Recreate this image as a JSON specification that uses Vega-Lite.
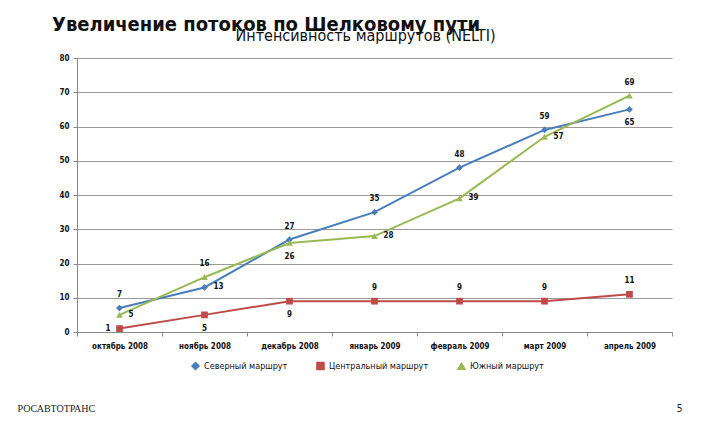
{
  "$schema": "https://vega.github.io/schema/vega-lite/v6.json",
  "autosize": "none",
  "width": 595,
  "height": 274,
  "padding": {"left": 77, "top": 58, "right": 52, "bottom": 100},
  "background": "white",
  "title": {
    "text": "Увеличение потоков по Шелковому пути",
    "anchor": "start",
    "frame": "group",
    "dx": -25,
    "offset": -8,
    "font": "Liberation Sans Narrow, DejaVu Sans Condensed, sans-serif",
    "fontSize": 20,
    "fontWeight": "bold",
    "color": "#111"
  },
  "config": {
    "view": {"stroke": null},
    "font": "Liberation Sans Narrow, DejaVu Sans Condensed, sans-serif"
  },
  "data": {
    "values": [
      {"month": "октябрь 2008", "series": "Северный маршрут", "value": 7},
      {"month": "ноябрь 2008", "series": "Северный маршрут", "value": 13},
      {"month": "декабрь 2008", "series": "Северный маршрут", "value": 27},
      {"month": "январь 2009", "series": "Северный маршрут", "value": 35},
      {"month": "февраль 2009", "series": "Северный маршрут", "value": 48},
      {"month": "март 2009", "series": "Северный маршрут", "value": 59},
      {"month": "апрель 2009", "series": "Северный маршрут", "value": 65},
      {"month": "октябрь 2008", "series": "Центральный маршрут", "value": 1},
      {"month": "ноябрь 2008", "series": "Центральный маршрут", "value": 5},
      {"month": "декабрь 2008", "series": "Центральный маршрут", "value": 9},
      {"month": "январь 2009", "series": "Центральный маршрут", "value": 9},
      {"month": "февраль 2009", "series": "Центральный маршрут", "value": 9},
      {"month": "март 2009", "series": "Центральный маршрут", "value": 9},
      {"month": "апрель 2009", "series": "Центральный маршрут", "value": 11},
      {"month": "октябрь 2008", "series": "Южный маршрут", "value": 5},
      {"month": "ноябрь 2008", "series": "Южный маршрут", "value": 16},
      {"month": "декабрь 2008", "series": "Южный маршрут", "value": 26},
      {"month": "январь 2009", "series": "Южный маршрут", "value": 28},
      {"month": "февраль 2009", "series": "Южный маршрут", "value": 39},
      {"month": "март 2009", "series": "Южный маршрут", "value": 57},
      {"month": "апрель 2009", "series": "Южный маршрут", "value": 69}
    ]
  },
  "encoding": {
    "x": {
      "field": "month",
      "type": "nominal",
      "sort": null,
      "scale": {"type": "band", "paddingInner": 0, "paddingOuter": 0},
      "axis": null
    },
    "y": {
      "field": "value",
      "type": "quantitative",
      "scale": {"domain": [0, 80]},
      "axis": null
    },
    "color": {
      "field": "series",
      "type": "nominal",
      "sort": ["Северный маршрут", "Центральный маршрут", "Южный маршрут"],
      "scale": {
        "domain": ["Северный маршрут", "Центральный маршрут", "Южный маршрут"],
        "range": ["#4a7ebb", "#be4b48", "#98b954"]
      },
      "legend": {
        "title": null,
        "orient": "none",
        "legendX": 114,
        "legendY": 303,
        "direction": "horizontal",
        "labelFont": "Liberation Sans Narrow, DejaVu Sans Condensed, sans-serif",
        "labelFontSize": 9,
        "labelColor": "#111",
        "labelOffset": 4,
        "columnPadding": 25,
        "symbolSize": 50
      }
    }
  },
  "layer": [
    {
      "mark": {"type": "line", "strokeWidth": 2},
      "encoding": {
        "x": {
          "field": "month",
          "type": "nominal",
          "sort": null,
          "scale": {"type": "band", "paddingInner": 0, "paddingOuter": 0},
          "axis": {
            "orient": "bottom",
            "title": null,
            "labelAngle": 0,
            "labelFont": "Liberation Sans Narrow, DejaVu Sans Condensed, sans-serif",
            "labelFontSize": 8,
            "labelFontWeight": "bold",
            "labelColor": "#111",
            "labelPadding": 6,
            "tickBand": "extent",
            "tickColor": "#888",
            "tickSize": 4,
            "domainColor": "#888"
          }
        },
        "y": {
          "field": "value",
          "type": "quantitative",
          "scale": {"domain": [0, 80]},
          "axis": {
            "orient": "left",
            "values": [0, 10, 20, 30, 40, 50, 60, 70, 80],
            "title": "РОСАВТОТРАНС",
            "titleAngle": 0,
            "titleX": -60,
            "titleY": 350,
            "titleAlign": "left",
            "titleBaseline": "middle",
            "titleFont": "Liberation Serif",
            "titleFontSize": 10,
            "titleFontWeight": "normal",
            "titleColor": "#222",
            "labelFont": "Liberation Sans Narrow, DejaVu Sans Condensed, sans-serif",
            "labelFontSize": 8,
            "labelFontWeight": "bold",
            "labelColor": "#111",
            "labelPadding": 4,
            "tickSize": 4,
            "tickColor": "#888",
            "domainColor": "#888",
            "gridColor": "#9a9a9a",
            "gridWidth": 1
          }
        }
      }
    },
    {
      "mark": {"type": "point", "filled": true, "size": 45, "opacity": 1},
      "encoding": {
        "shape": {
          "field": "series",
          "type": "nominal",
          "scale": {
            "domain": ["Северный маршрут", "Центральный маршрут", "Южный маршрут"],
            "range": ["diamond", "square", "triangle-up"]
          },
          "legend": null
        }
      }
    },
    {
      "transform": [{"filter": "(datum.series == 'Северный маршрут' && datum.month != 'ноябрь 2008' && datum.month != 'апрель 2009') || (datum.series == 'Южный маршрут' && (datum.month == 'ноябрь 2008' || datum.month == 'апрель 2009')) || (datum.series == 'Центральный маршрут' && (datum.month == 'январь 2009' || datum.month == 'февраль 2009' || datum.month == 'март 2009' || datum.month == 'апрель 2009'))"}],
      "mark": {"type": "text", "dy": -13, "fontSize": 8, "fontWeight": "bold", "color": "#111"},
      "encoding": {"text": {"field": "value", "type": "quantitative"}, "color": {"value": "#111"}}
    },
    {
      "transform": [{"filter": "(datum.series == 'Северный маршрут' && datum.month == 'апрель 2009') || (datum.series == 'Южный маршрут' && datum.month == 'декабрь 2008') || (datum.series == 'Центральный маршрут' && (datum.month == 'ноябрь 2008' || datum.month == 'декабрь 2008'))"}],
      "mark": {"type": "text", "dy": 14, "fontSize": 8, "fontWeight": "bold", "color": "#111"},
      "encoding": {"text": {"field": "value", "type": "quantitative"}, "color": {"value": "#111"}}
    },
    {
      "transform": [{"filter": "(datum.series == 'Северный маршрут' && datum.month == 'ноябрь 2008') || (datum.series == 'Южный маршрут' && datum.month != 'ноябрь 2008' && datum.month != 'декабрь 2008' && datum.month != 'апрель 2009')"}],
      "mark": {"type": "text", "dx": 9, "align": "left", "fontSize": 8, "fontWeight": "bold", "color": "#111"},
      "encoding": {"text": {"field": "value", "type": "quantitative"}, "color": {"value": "#111"}}
    },
    {
      "transform": [{"filter": "datum.series == 'Центральный маршрут' && datum.month == 'октябрь 2008'"}],
      "mark": {"type": "text", "dx": -9, "align": "right", "fontSize": 8, "fontWeight": "bold", "color": "#111"},
      "encoding": {"text": {"field": "value", "type": "quantitative"}, "color": {"value": "#111"}}
    },
    {
      "mark": {"type": "point", "opacity": 0},
      "encoding": {
        "x": {
          "field": "month",
          "type": "nominal",
          "sort": null,
          "scale": {"type": "band", "paddingInner": 0, "paddingOuter": 0},
          "axis": {
            "orient": "top",
            "title": "Интенсивность маршрутов (NELTI)",
            "titleFontSize": 16,
            "titleFontWeight": "normal",
            "titleColor": "#111",
            "titleFont": "Liberation Sans Narrow, DejaVu Sans Condensed, sans-serif",
            "titleX": 288,
            "titleAlign": "center",
            "titleY": -15,
            "labels": false,
            "ticks": false,
            "domain": false,
            "grid": false
          }
        },
        "y": {
          "field": "value",
          "type": "quantitative",
          "scale": {"domain": [0, 80]},
          "axis": {
            "orient": "right",
            "title": "5",
            "titleAngle": 0,
            "titleX": 7,
            "titleY": 350,
            "titleBaseline": "middle",
            "titleFontSize": 10,
            "titleFontWeight": "normal",
            "titleColor": "#222",
            "labels": false,
            "ticks": false,
            "domain": false,
            "grid": false
          }
        },
        "color": {"value": "#fff"}
      }
    }
  ],
  "resolve": {"axis": {"x": "independent", "y": "independent"}}
}
